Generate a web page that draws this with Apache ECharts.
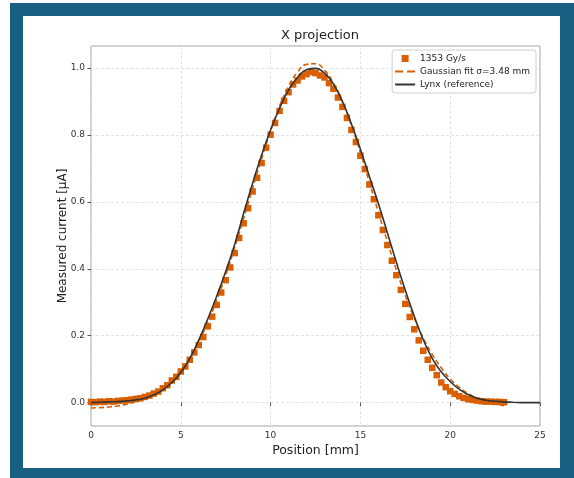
<!DOCTYPE html>
<html>
<head>
<meta charset="utf-8">
<script src="https://cdn.jsdelivr.net/npm/echarts@6/dist/echarts.min.js"></script>
<style>
  html, body { margin: 0; padding: 0; background: #fff; }
  #frame { position: absolute; left: 10px; top: 3px; width: 564px; height: 475px; background: #185f82; }
  #panel { position: absolute; left: 23px; top: 16px; width: 537px; height: 452px; background: #fff; }
  #chart { position: absolute; left: 0; top: 0; width: 574px; height: 478px; }
</style>
</head>
<body>
<div id="frame"></div>
<div id="panel"></div>
<div id="chart"></div>
<script>
// measured profile, 1353 Gy/s (x step 0.25 mm from 0 to 23 mm)
const measX = [];
for (let i = 0; i <= 92; i++) measX.push(i * 0.25);
const measY = [
  0.002, 0.001, 0.003, 0.002, 0.004, 0.003, 0.005, 0.006, 0.007, 0.009,
  0.011, 0.013, 0.017, 0.021, 0.027, 0.033, 0.043, 0.052, 0.066, 0.077,
  0.093, 0.108, 0.128, 0.150, 0.172, 0.196, 0.228, 0.257, 0.292, 0.329,
  0.366, 0.404, 0.447, 0.492, 0.536, 0.581, 0.631, 0.672, 0.716, 0.762,
  0.801, 0.836, 0.872, 0.902, 0.928, 0.951, 0.963, 0.975, 0.982, 0.988,
  0.985, 0.978, 0.972, 0.955, 0.938, 0.912, 0.884, 0.851, 0.815, 0.779,
  0.738, 0.698, 0.652, 0.608, 0.560, 0.516, 0.471, 0.424, 0.381, 0.337,
  0.295, 0.256, 0.219, 0.186, 0.155, 0.128, 0.104, 0.082, 0.060, 0.046,
  0.034, 0.026, 0.019, 0.014, 0.010, 0.008, 0.006, 0.004, 0.003, 0.003,
  0.002, 0.002, 0.001
];

// gaussian fit curve, read every 0.5 mm from 0 to 23 mm
const fitX = [];
for (let i = 0; i <= 46; i++) fitX.push(i * 0.5);
const fitY = [
  -0.016, -0.015, -0.013, -0.010, -0.005, 0.002, 0.011, 0.024, 0.042, 0.066,
  0.097, 0.135, 0.183, 0.240, 0.306, 0.381, 0.464, 0.551, 0.641, 0.729,
  0.812, 0.886, 0.945, 0.988, 1.011, 1.013, 0.994, 0.955, 0.899, 0.828,
  0.747, 0.659, 0.569, 0.481, 0.397, 0.320, 0.252, 0.193, 0.144, 0.104,
  0.071, 0.046, 0.027, 0.013, 0.003, -0.004, -0.009
];

// Lynx reference, read every 0.5 mm from 0 to 25 mm
const lynxX = [];
for (let i = 0; i <= 50; i++) lynxX.push(i * 0.5);
const lynxY = [
  0.000, 0.001, 0.002, 0.003, 0.005, 0.008, 0.013, 0.023, 0.038, 0.060,
  0.090, 0.132, 0.187, 0.250, 0.318, 0.392, 0.473, 0.566, 0.656, 0.740,
  0.815, 0.880, 0.935, 0.972, 0.995, 0.999, 0.985, 0.952, 0.900, 0.833,
  0.757, 0.676, 0.595, 0.508, 0.420, 0.336, 0.258, 0.188, 0.132, 0.092,
  0.063, 0.040, 0.024, 0.013, 0.007, 0.004, 0.002, 0.001, 0.000, 0.000,
  0.000
];

const xTicks = [0, 5, 10, 15, 20, 25];

const pairs = (xs, ys) => xs.map((x, i) => [x, ys[i]]);

const chart = echarts.init(document.getElementById('chart'), null, { renderer: 'canvas' });

const option = {
  animation: false,
  backgroundColor: 'transparent',
  textStyle: { fontFamily: 'DejaVu Sans' },
  title: {
    text: 'X projection',
    left: 315,
    top: 24,
    textAlign: 'center',
    textStyle: { fontSize: 13, fontWeight: 'normal', color: '#222', fontFamily: 'DejaVu Sans' }
  },
  legend: {
    orient: 'vertical',
    right: 38,
    top: 50,
    itemWidth: 20,
    itemHeight: 7,
    itemGap: 4,
    padding: [4, 6, 4, 3],
    borderColor: '#d0d0d0',
    borderWidth: 1,
    borderRadius: 3,
    backgroundColor: 'rgba(255,255,255,0.85)',
    textStyle: { fontSize: 9, color: '#222', fontFamily: 'DejaVu Sans' },
    data: [
      { name: '1353 Gy/s', icon: 'path://M0,0h10v10h-10z' },
      { name: 'Gaussian fit \u03c3=3.48 mm', icon: 'path://M0,0h8v2h-8z M12,0h8v2h-8z' },
      { name: 'Lynx (reference)', icon: 'path://M0,0h20v2h-20z' }
    ]
  },
  grid: {
    left: 91, right: 34, top: 46, bottom: 52,
    show: true, borderColor: '#a0a0a0', borderWidth: 1
  },
  xAxis: {
    type: 'value',
    min: xTicks[0], max: xTicks[xTicks.length - 1], interval: 5,
    name: 'Position [mm]',
    nameLocation: 'middle',
    nameGap: 18,
    nameMoveOverlap: false,
    nameTextStyle: { fontSize: 12.5, color: '#222' },
    axisLine: { show: false },
    axisTick: { show: true, inside: false, length: 3.5, lineStyle: { color: '#555' } },
    axisLabel: { fontSize: 9, color: '#333', margin: 5 },
    splitLine: { show: true, lineStyle: { color: '#dcdcdc', type: [3, 2], width: 0.8 } }
  },
  yAxis: {
    type: 'value',
    min: -0.07, max: 1.066,
    splitNumber: 5,
    name: 'Measured current [\u00b5A]',
    nameLocation: 'middle',
    nameGap: 22,
    nameMoveOverlap: false,
    nameTextStyle: { fontSize: 12, color: '#222' },
    axisLine: { show: false },
    axisTick: { show: true, inside: false, length: 3.5, lineStyle: { color: '#555' } },
    axisLabel: {
      fontSize: 9, color: '#333', margin: 6,
      showMinLabel: false, showMaxLabel: false,
      formatter: v => v.toFixed(1)
    },
    splitLine: { show: true, lineStyle: { color: '#dcdcdc', type: [3, 2], width: 0.8 } }
  },
  series: [
    {
      name: '1353 Gy/s',
      type: 'scatter',
      symbol: 'rect',
      symbolSize: 6.5,
      itemStyle: { color: '#d95f02', opacity: 1 },
      data: pairs(measX, measY)
    },
    {
      name: 'Gaussian fit \u03c3=3.48 mm',
      type: 'line',
      symbol: 'none',
      smooth: true,
      lineStyle: { color: '#d95f02', width: 1.6, type: [5, 3] },
      itemStyle: { color: '#d95f02' },
      data: pairs(fitX, fitY)
    },
    {
      name: 'Lynx (reference)',
      type: 'line',
      symbol: 'none',
      smooth: true,
      lineStyle: { color: '#333', width: 1.6 },
      itemStyle: { color: '#333' },
      data: pairs(lynxX, lynxY)
    }
  ]
};

chart.setOption(option);
</script>
</body>
</html>
